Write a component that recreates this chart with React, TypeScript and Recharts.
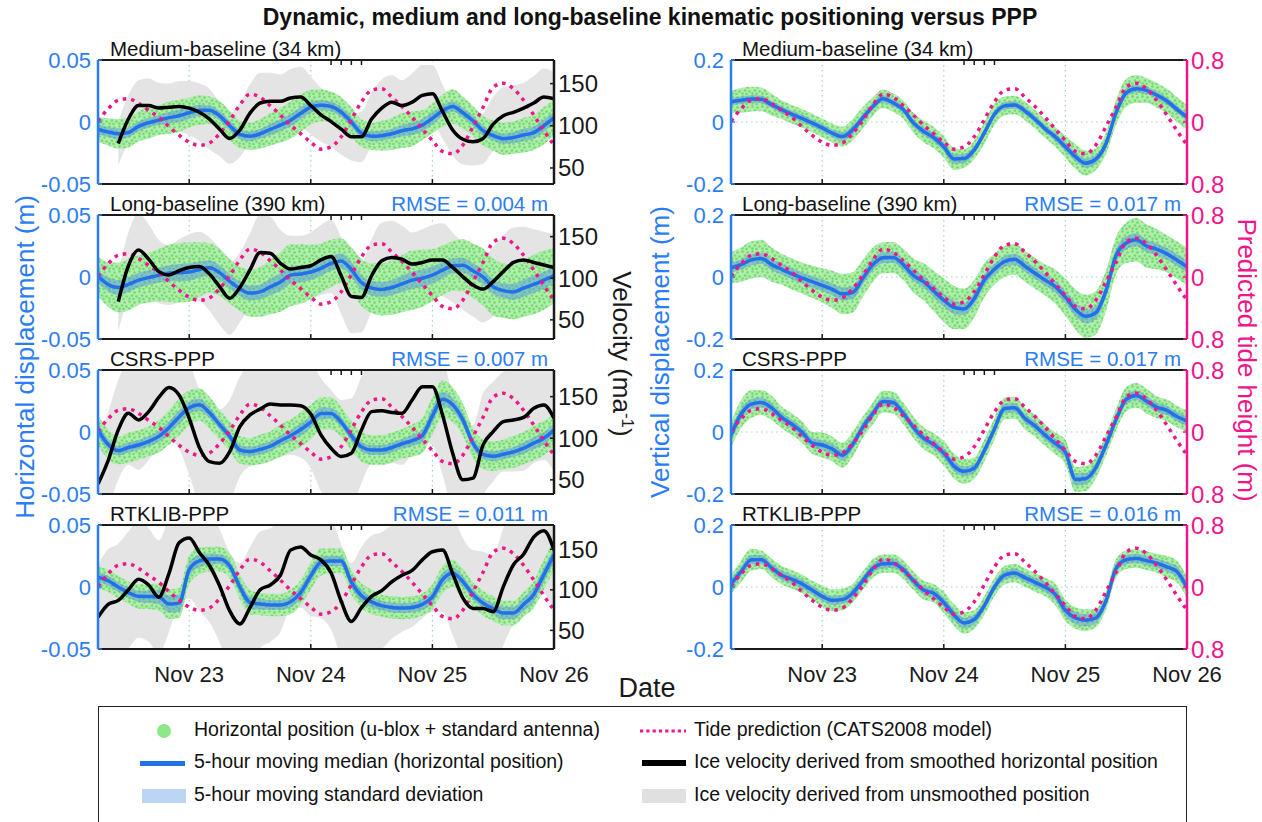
import React from "react";
import { ComposedChart, Area, Line, XAxis, YAxis, CartesianGrid } from "recharts";

const FONT = "'Liberation Sans', Arial, Helvetica, sans-serif";
const BLUE = "#2a7df4";
const BLUE_LINE = "#2270ea";
const PINK = "#f0158a";
const INK = "#1a1a1a";

// 2-hour samples, Nov 22 06:00 -> Nov 26 00:00 (day of month)
const TIMES = Array.from({ length: 46 }, (_, k) => 22.25 + k / 12);
const DATE_TICKS = [23, 24, 25, 26];

// CATS2008 tide prediction (m), shared by all panels
const TIDE = [0.01, 0.17, 0.28, 0.3, 0.24, 0.15, 0.06, -0.06, -0.17, -0.26, -0.3, -0.27, -0.15, 0.02, 0.22, 0.36, 0.32, 0.21, 0.09, -0.04, -0.15, -0.26, -0.35, -0.32, -0.19, 0.03, 0.26, 0.41, 0.43, 0.32, 0.2, 0.06, -0.09, -0.24, -0.38, -0.41, -0.3, -0.06, 0.19, 0.45, 0.5, 0.43, 0.28, 0.09, -0.11, -0.3];

// ---- horizontal panels (mm), velocity (m/a) ----
const H1_MED = [-6, -8, -9.5, -8.5, -3.5, -0.5, 1.5, 3.5, 5, 7.5, 9.5, 9.5, 5, -3, -10, -11.5, -9.5, -6, -2.5, 1.5, 7, 12, 13.5, 12.5, 8, 0, -9, -11.5, -11, -9.5, -7, -5.5, -2.5, 3, 9, 12.5, 7.5, 1, -7, -11, -13.5, -12.5, -10.5, -8.5, -3, 3.5];
const H1_SD = [4, 4, 4.5, 4, 4, 4, 4, 4.5, 5, 5, 4.5, 4, 4, 4, 4, 4, 4, 4.5, 5, 5, 5, 4.5, 4, 4, 4, 4, 4, 4, 4, 4, 4.5, 5, 5, 5, 4.5, 4, 4, 4, 4, 4, 4, 4.5, 5, 5, 5, 4.5];
const H1_SPREAD = [10, 11, 12, 12, 12, 13, 12, 13, 13, 12, 12, 11, 12, 12, 11, 11, 12, 13, 14, 15, 15, 14, 13, 12, 12, 12, 11, 11, 12, 13, 14, 14, 12, 12, 13, 14, 13, 12, 12, 12, 13, 13, 14, 14, 15, 14];
const V1 = [null, null, 79, 108, 124, 124, 121, 122, 123, 121, 116, 108, 96, 85, 95, 115, 127, 129, 129, 133, 134, 124, 113, 105, 96, 87, 87, 108, 121, 128, 124, 128, 136, 138, 117, 95, 84, 81, 85, 102, 112, 116, 121, 127, 134, 132];
const V1_RAW = [26, 26, 26, 28, 30, 32, 30, 28, 30, 32, 34, 36, 32, 30, 32, 34, 36, 34, 32, 34, 36, 34, 32, 30, 30, 28, 30, 32, 34, 32, 30, 34, 36, 34, 32, 30, 30, 28, 30, 32, 34, 32, 30, 32, 34, 32];

const H2_MED = [0.5, -6, -8.5, -6, -2.5, -0.5, 1.5, 3, 3.5, 4, 6, 7.5, 3.5, -3.5, -9.5, -13, -12, -8, -4, 1.5, 2.5, 4, 7, 11, 13, 6, -4.5, -9, -10, -8.5, -5.5, -2.5, -1, 1.5, 5.5, 9, 9.5, 5, 0, -8, -11, -12, -9, -6, -2.5, 1];
const H2_SD = [5, 5.5, 6, 6, 6, 6, 6, 6.5, 7, 7, 6.5, 6, 6, 6, 6, 6, 6, 6.5, 7, 7, 7, 6.5, 6, 6, 6, 6, 6, 6, 6, 6, 6.5, 7, 7, 7, 6.5, 6, 6, 6, 6, 6, 6, 6.5, 7, 7, 7, 6.5];
const H2_SPREAD = [16, 18, 20, 21, 20, 20, 21, 23, 24, 24, 22, 20, 19, 18, 18, 19, 20, 22, 24, 25, 24, 22, 20, 19, 18, 18, 19, 20, 21, 22, 23, 24, 23, 21, 20, 20, 21, 22, 23, 23, 22, 22, 23, 24, 24, 22];
const V2 = [null, null, 72, 115, 134, 123, 108, 104, 109, 113, 114, 105, 90, 76, 89, 110, 131, 130, 118, 111, 113, 115, 122, 126, 103, 78, 77, 103, 121, 125, 123, 117, 119, 122, 122, 113, 102, 92, 87, 96, 108, 119, 122, 119, 116, 113];
const V2_RAW = [32, 32, 36, 40, 44, 42, 38, 36, 38, 40, 42, 44, 46, 44, 42, 44, 46, 44, 40, 40, 38, 40, 42, 44, 46, 44, 42, 44, 46, 44, 40, 38, 40, 42, 44, 42, 40, 38, 40, 42, 44, 42, 40, 40, 40, 40];

const H3_MED = [1.5, -10, -15, -12.5, -10.5, -7.5, -3.5, 3.5, 12, 19.5, 22, 15.5, 6, -3.5, -14.5, -15.8, -14, -11.5, -7, -3, 2, 8, 15, 15, 8, -3, -12, -14.5, -14.5, -12.5, -9.5, -7, -3, 13, 26.5, 22, 10, -9, -18, -19.5, -18, -16, -13, -9, -5, 1.5];
const H3_SD = [5, 4.5, 4, 4, 4, 4, 4.5, 5, 5.5, 5, 5, 4.5, 4, 4, 4, 4, 4, 4, 4, 4.5, 5, 5, 5, 4.5, 4, 4, 4, 4, 4, 4, 4, 4.5, 5, 6, 6, 5.5, 5, 4.5, 4, 4, 4, 4, 4.5, 5, 5, 5];
const H3_SPREAD = [12, 12, 11, 12, 12, 12, 13, 14, 15, 14, 13, 13, 12, 12, 11, 11, 12, 12, 13, 13, 14, 14, 13, 13, 12, 12, 12, 12, 12, 12, 12, 13, 14, 15, 15, 14, 13, 12, 12, 12, 12, 13, 13, 14, 14, 13];
const V3 = [45, 73, 110, 130, 122, 132, 149, 161, 152, 124, 89, 72, 70, 84, 114, 128, 135, 141, 140, 140, 139, 129, 104, 88, 78, 82, 110, 132, 133, 131, 130, 146, 162, 162, 128, 82, 50, 52, 92, 108, 120, 122, 125, 136, 140, 124];
const V3_RAW = [55, 58, 60, 62, 60, 58, 60, 62, 65, 68, 70, 68, 65, 62, 60, 62, 65, 64, 62, 60, 62, 65, 68, 70, 68, 66, 64, 62, 60, 60, 62, 64, 66, 70, 72, 70, 66, 64, 62, 60, 60, 62, 64, 66, 66, 64];

const H4_MED = [8, 5, 0, -4.5, -7.5, -7.7, -8, -13.7, -13, 14, 21, 22.5, 22.5, 17, 0, -12.5, -13.7, -14.5, -14.5, -12, -4.5, 9, 20, 21, 21, 4, -7, -12, -15, -16.5, -17, -16.5, -14, -8, 6, 11, 4.5, -6, -13, -17.5, -21, -21, -14, -6, 10, 26];
const H4_SD = [4, 4, 4, 4, 4.5, 5, 6, 7, 7, 6, 5, 4.5, 4, 4, 4.5, 5, 4.5, 4, 4, 4.5, 5, 5, 4.5, 4, 4, 4.5, 5, 4.5, 4, 4, 4, 4, 4.5, 5, 5.5, 5, 4.5, 4, 4, 4.5, 5, 5, 5.5, 6, 6, 5.5];
const H4_SPREAD = [9, 9, 9, 9, 10, 10, 11, 12, 12, 12, 11, 10, 10, 10, 10, 10, 9, 9, 9, 10, 10, 11, 11, 10, 10, 10, 10, 10, 9, 9, 9, 9, 9, 10, 11, 11, 10, 10, 10, 10, 10, 10, 10, 11, 12, 12];
const V4 = [66, 82, 87, 100, 113, 106, 91, 120, 158, 164, 146, 130, 105, 74, 58, 78, 100, 106, 118, 149, 153, 143, 137, 121, 86, 61, 78, 92, 99, 110, 118, 124, 137, 147, 149, 120, 90, 77, 77, 73, 104, 131, 144, 165, 173, 149];
const V4_RAW = [65, 68, 70, 72, 72, 70, 70, 72, 75, 75, 72, 70, 70, 72, 75, 75, 72, 70, 70, 72, 75, 75, 72, 70, 70, 72, 75, 75, 72, 70, 70, 70, 72, 74, 76, 76, 74, 72, 70, 70, 72, 74, 76, 78, 78, 76];

// ---- vertical panels (m) ----
const R1_MED = [0.066, 0.07, 0.074, 0.073, 0.056, 0.04, 0.025, 0.012, -0.003, -0.019, -0.036, -0.047, -0.025, 0.013, 0.05, 0.075, 0.062, 0.04, -0.003, -0.03, -0.05, -0.08, -0.119, -0.118, -0.09, -0.035, 0.025, 0.052, 0.055, 0.036, 0.009, -0.022, -0.048, -0.08, -0.112, -0.133, -0.12, -0.07, 0.03, 0.094, 0.107, 0.102, 0.087, 0.068, 0.041, 0.016];
const R1_SD = [0.012, 0.012, 0.012, 0.012, 0.012, 0.012, 0.012, 0.012, 0.012, 0.012, 0.013, 0.014, 0.014, 0.013, 0.012, 0.012, 0.012, 0.012, 0.012, 0.013, 0.014, 0.015, 0.015, 0.014, 0.013, 0.012, 0.012, 0.012, 0.012, 0.012, 0.012, 0.012, 0.013, 0.014, 0.015, 0.015, 0.014, 0.013, 0.013, 0.013, 0.012, 0.012, 0.012, 0.012, 0.012, 0.012];
const R1_SPREAD = [0.035, 0.04, 0.04, 0.038, 0.035, 0.03, 0.03, 0.03, 0.03, 0.03, 0.03, 0.032, 0.035, 0.035, 0.03, 0.03, 0.03, 0.03, 0.032, 0.035, 0.035, 0.035, 0.035, 0.03, 0.03, 0.035, 0.035, 0.03, 0.03, 0.03, 0.03, 0.03, 0.032, 0.035, 0.04, 0.04, 0.035, 0.035, 0.04, 0.045, 0.045, 0.04, 0.04, 0.04, 0.04, 0.04];

const R2_MED = [0.03, 0.04, 0.055, 0.06, 0.04, 0.025, 0.01, -0.003, -0.015, -0.027, -0.04, -0.055, -0.05, -0.005, 0.04, 0.062, 0.063, 0.04, 0.005, -0.015, -0.045, -0.075, -0.098, -0.103, -0.07, -0.01, 0.025, 0.05, 0.057, 0.035, 0.012, -0.01, -0.031, -0.065, -0.105, -0.127, -0.115, -0.045, 0.07, 0.11, 0.12, 0.1, 0.09, 0.075, 0.055, 0.033];
const R2_SD = [0.016, 0.017, 0.018, 0.018, 0.018, 0.018, 0.018, 0.018, 0.018, 0.019, 0.02, 0.021, 0.021, 0.02, 0.019, 0.018, 0.018, 0.018, 0.018, 0.019, 0.02, 0.021, 0.021, 0.02, 0.019, 0.018, 0.018, 0.018, 0.018, 0.018, 0.018, 0.018, 0.019, 0.02, 0.022, 0.022, 0.021, 0.02, 0.02, 0.021, 0.021, 0.02, 0.019, 0.019, 0.019, 0.019];
const R2_SPREAD = [0.05, 0.055, 0.06, 0.06, 0.055, 0.05, 0.05, 0.05, 0.052, 0.055, 0.06, 0.065, 0.065, 0.06, 0.055, 0.05, 0.05, 0.05, 0.055, 0.06, 0.065, 0.07, 0.07, 0.065, 0.06, 0.055, 0.05, 0.05, 0.05, 0.05, 0.05, 0.05, 0.055, 0.06, 0.065, 0.07, 0.07, 0.065, 0.06, 0.065, 0.07, 0.07, 0.065, 0.06, 0.06, 0.06];

const R3_MED = [-0.01, 0.058, 0.09, 0.095, 0.078, 0.047, 0.025, 0.0, -0.035, -0.042, -0.055, -0.075, -0.04, 0.015, 0.06, 0.098, 0.095, 0.06, 0.015, -0.02, -0.04, -0.068, -0.11, -0.127, -0.117, -0.06, 0.01, 0.076, 0.078, 0.044, 0.02, -0.01, -0.037, -0.065, -0.153, -0.15, -0.115, -0.042, 0.04, 0.105, 0.118, 0.1, 0.08, 0.07, 0.05, 0.035];
const R3_SD = [0.02, 0.018, 0.017, 0.016, 0.015, 0.015, 0.015, 0.015, 0.016, 0.016, 0.017, 0.018, 0.017, 0.016, 0.015, 0.015, 0.015, 0.015, 0.015, 0.015, 0.016, 0.017, 0.017, 0.016, 0.015, 0.015, 0.015, 0.015, 0.015, 0.015, 0.015, 0.016, 0.017, 0.02, 0.02, 0.018, 0.017, 0.017, 0.017, 0.016, 0.015, 0.015, 0.015, 0.015, 0.015, 0.015];
const R3_SPREAD = [0.04, 0.045, 0.045, 0.04, 0.04, 0.035, 0.035, 0.035, 0.035, 0.04, 0.04, 0.04, 0.04, 0.035, 0.035, 0.035, 0.035, 0.035, 0.035, 0.035, 0.035, 0.04, 0.04, 0.04, 0.035, 0.035, 0.035, 0.035, 0.035, 0.035, 0.035, 0.035, 0.035, 0.04, 0.04, 0.04, 0.035, 0.035, 0.035, 0.04, 0.04, 0.04, 0.035, 0.035, 0.035, 0.035];

const R4_MED = [0.009, 0.05, 0.088, 0.088, 0.062, 0.038, 0.025, 0.01, -0.01, -0.03, -0.043, -0.04, -0.02, 0.02, 0.06, 0.075, 0.076, 0.056, 0.02, -0.01, -0.02, -0.05, -0.09, -0.116, -0.105, -0.06, 0.0, 0.038, 0.045, 0.03, 0.015, 0.0, -0.024, -0.075, -0.1, -0.107, -0.1, -0.045, 0.06, 0.088, 0.092, 0.085, 0.077, 0.065, 0.05, -0.002];
const R4_SD = [0.016, 0.016, 0.015, 0.015, 0.015, 0.015, 0.015, 0.015, 0.015, 0.015, 0.015, 0.015, 0.015, 0.015, 0.015, 0.015, 0.015, 0.015, 0.015, 0.015, 0.015, 0.016, 0.017, 0.017, 0.016, 0.015, 0.015, 0.015, 0.015, 0.015, 0.015, 0.016, 0.018, 0.02, 0.02, 0.02, 0.018, 0.017, 0.016, 0.015, 0.015, 0.015, 0.015, 0.016, 0.018, 0.018];
const R4_SPREAD = [0.03, 0.035, 0.035, 0.03, 0.03, 0.03, 0.03, 0.03, 0.03, 0.035, 0.035, 0.035, 0.03, 0.03, 0.03, 0.03, 0.03, 0.03, 0.03, 0.03, 0.03, 0.035, 0.035, 0.035, 0.03, 0.03, 0.03, 0.03, 0.03, 0.03, 0.03, 0.03, 0.035, 0.035, 0.035, 0.035, 0.03, 0.03, 0.03, 0.03, 0.03, 0.03, 0.03, 0.035, 0.035, 0.035];

const SOLUTIONS = ["Medium-baseline (34 km)", "Long-baseline (390 km)", "CSRS-PPP", "RTKLIB-PPP"];
const RMSE_H = [null, "0.004", "0.007", "0.011"];
const RMSE_V = [null, "0.017", "0.017", "0.016"];
const VEL_DOMAINS: [number, number][] = [[31, 178], [27, 176], [33, 182], [27, 180]];

type Row = {
  t: number;
  med: number;
  sd: [number, number];
  green: [number, number];
  tide: number;
  vel: number | null;
  grey: [number, number] | null;
};

function buildRows(med: number[], sd: number[], spread: number[], scale: number, vel?: (number | null)[], velRaw?: number[]): Row[] {
  return TIMES.map((t, i) => {
    const m = med[i] * scale;
    const v = vel ? vel[i] : null;
    return {
      t,
      med: m,
      sd: [m - sd[i] * scale, m + sd[i] * scale],
      green: [m - spread[i] * scale, m + spread[i] * scale],
      tide: TIDE[i],
      vel: v,
      grey: v == null || !velRaw ? null : [v - velRaw[i], v + velRaw[i]],
    };
  });
}

const H_ROWS = [
  buildRows(H1_MED, H1_SD, H1_SPREAD, 0.001, V1, V1_RAW),
  buildRows(H2_MED, H2_SD, H2_SPREAD, 0.001, V2, V2_RAW),
  buildRows(H3_MED, H3_SD, H3_SPREAD, 0.001, V3, V3_RAW),
  buildRows(H4_MED, H4_SD, H4_SPREAD, 0.001, V4, V4_RAW),
];
const V_ROWS = [
  buildRows(R1_MED, R1_SD, R1_SPREAD, 1),
  buildRows(R2_MED, R2_SD, R2_SPREAD, 1),
  buildRows(R3_MED, R3_SD, R3_SPREAD, 1),
  buildRows(R4_MED, R4_SD, R4_SPREAD, 1),
];

const PLOT_W = 456;
const PLOT_H = 124;
const WL = 70;
const WR = 60;
const PAD = 14; // room for the end tick labels above and below each panel

// scattered-dot texture for the position cloud
const DOTS: [number, number][] = [[1.5, 1.5], [6.5, 2.5], [4, 5.5], [8.5, 6.5], [1.5, 8.5], [5.5, 9]];

type PanelProps = {
  id: string;
  x: number;
  y: number;
  data: Row[];
  kind: "h" | "v";
  velDomain?: [number, number];
  showDates: boolean;
};

function Panel({ id, x, y, data, kind, velDomain, showDates }: PanelProps) {
  const bottomH = showDates ? 44 : 1;
  const padBottom = showDates ? 0 : PAD;
  const isH = kind === "h";
  return (
    <div style={{ position: "absolute", left: x - WL, top: y - PAD - 1 }}>
      <ComposedChart
        width={WL + PLOT_W + WR}
        height={PAD + 1 + PLOT_H + bottomH + padBottom}
        data={data}
        margin={{ top: PAD, right: 0, bottom: padBottom, left: 0 }}
      >
        <defs>
          <pattern id={`dots-${id}`} width="10" height="10" patternUnits="userSpaceOnUse">
            <rect width="10" height="10" fill="#afeeab" />
            {DOTS.map(([cx, cy]) => (
              <circle key={`${cx}-${cy}`} cx={cx} cy={cy} r="1.3" fill="#74d870" />
            ))}
          </pattern>
        </defs>
        <CartesianGrid xAxisId="b" yAxisId="d" stroke="#9fd0d0" strokeDasharray="1.5 3.5" strokeWidth={1.2} />

        {isH && (
          <Area xAxisId="b" yAxisId="vel" dataKey="grey" type="monotone" stroke="none" fill="#e4e4e4" fillOpacity={1} isAnimationActive={false} />
        )}
        <Area xAxisId="b" yAxisId="d" dataKey="green" type="monotone" stroke="none" fill={`url(#dots-${id})`} fillOpacity={1} isAnimationActive={false} />
        <Area xAxisId="b" yAxisId="d" dataKey="sd" type="monotone" stroke="none" fill="#4d8fe6" fillOpacity={0.45} isAnimationActive={false} />
        <Line xAxisId="b" yAxisId="d" dataKey="med" type="monotone" stroke={BLUE_LINE} strokeWidth={3.5} dot={false} isAnimationActive={false} />
        <Line xAxisId="b" yAxisId="tide" dataKey="tide" type="monotone" stroke={PINK} strokeWidth={3.5} strokeDasharray="3.5 5" dot={false} isAnimationActive={false} />
        {isH && (
          <Line xAxisId="b" yAxisId="vel" dataKey="vel" type="monotone" stroke="#000" strokeWidth={3.5} dot={false} isAnimationActive={false} />
        )}

        <XAxis
          xAxisId="b"
          dataKey="t"
          type="number"
          domain={[22.25, 26]}
          ticks={DATE_TICKS}
          interval={0}
          allowDataOverflow
          height={bottomH}
          tickSize={-5}
          tickMargin={showDates ? 22 : 0}
          tickFormatter={(v: number) => (showDates ? `Nov ${v}` : "")}
          tick={{ fill: INK, fontSize: 22, fontFamily: FONT }}
          axisLine={{ stroke: INK, strokeWidth: 2 }}
          tickLine={{ stroke: INK, strokeWidth: 1.5 }}
        />
        <XAxis
          xAxisId="t"
          orientation="top"
          type="number"
          domain={[22.25, 26]}
          ticks={DATE_TICKS}
          interval={0}
          allowDataOverflow
          height={1}
          tickSize={-5}
          tickFormatter={() => ""}
          axisLine={{ stroke: INK, strokeWidth: 2 }}
          tickLine={{ stroke: INK, strokeWidth: 1.5 }}
        />
        <YAxis
          yAxisId="d"
          orientation="left"
          width={WL}
          type="number"
          domain={isH ? [-0.05, 0.05] : [-0.2, 0.2]}
          ticks={isH ? [-0.05, 0, 0.05] : [-0.2, 0, 0.2]}
          interval={0}
          allowDataOverflow
          tickSize={-4}
          tickMargin={11}
          tickFormatter={(v: number) => String(v)}
          tick={{ fill: BLUE, fontSize: 22, fontFamily: FONT }}
          axisLine={{ stroke: BLUE, strokeWidth: 2.5 }}
          tickLine={{ stroke: BLUE, strokeWidth: 1.5 }}
        />
        {isH ? (
          <YAxis
            yAxisId="vel"
            orientation="right"
            width={WR}
            type="number"
            domain={velDomain}
            ticks={[50, 100, 150]}
            interval={0}
            allowDataOverflow
            tickSize={-4}
            tickMargin={8}
            tick={{ fill: INK, fontSize: 24, fontFamily: FONT }}
            axisLine={{ stroke: INK, strokeWidth: 2.5 }}
            tickLine={{ stroke: INK, strokeWidth: 1.5 }}
          />
        ) : null}
        {isH ? (
          <YAxis yAxisId="tide" hide width={0} type="number" domain={[-0.8, 0.8]} allowDataOverflow />
        ) : (
          <YAxis
            yAxisId="tide"
            orientation="right"
            width={WR}
            type="number"
            domain={[-0.8, 0.8]}
            ticks={[-0.8, 0, 0.8]}
            interval={0}
            allowDataOverflow
            tickSize={-4}
            tickMargin={8}
            tickFormatter={(v: number) => String(Math.abs(v))}
            tick={{ fill: PINK, fontSize: 24, fontFamily: FONT }}
            axisLine={{ stroke: PINK, strokeWidth: 2.5 }}
            tickLine={{ stroke: PINK, strokeWidth: 1.5 }}
          />
        )}
      </ComposedChart>
    </div>
  );
}

const text = (extra: React.CSSProperties): React.CSSProperties => ({
  position: "absolute",
  fontFamily: FONT,
  whiteSpace: "nowrap",
  lineHeight: 1,
  ...extra,
});

function Legend() {
  const rowY = [731, 763, 796];
  const label = (x: number, y: number, s: string) => (
    <div style={text({ left: x, top: y - 11, fontSize: 19.5, color: "#111" })}>{s}</div>
  );
  return (
    <>
      <div style={{ position: "absolute", left: 98, top: 706, width: 1089, height: 124, border: "1.5px solid #222", boxSizing: "border-box" }} />
      <svg style={{ position: "absolute", left: 156, top: rowY[0] - 8 }} width={16} height={16}>
        <circle cx={8} cy={8} r={7} fill="#8de88a" />
      </svg>
      <div style={{ position: "absolute", left: 140, top: rowY[1] - 2.5, width: 45, height: 5, background: BLUE_LINE }} />
      <div style={{ position: "absolute", left: 142, top: rowY[2] - 7, width: 44, height: 14, background: "#bcd5f5" }} />
      {label(194, rowY[0], "Horizontal position (u-blox + standard antenna)")}
      {label(194, rowY[1], "5-hour moving median (horizontal position)")}
      {label(194, rowY[2], "5-hour moving standard deviation")}

      <svg style={{ position: "absolute", left: 640, top: rowY[0] - 3 }} width={46} height={6}>
        <line x1={0} y1={3} x2={46} y2={3} stroke={PINK} strokeWidth={3} strokeDasharray="3.2 3.1" />
      </svg>
      <div style={{ position: "absolute", left: 642, top: rowY[1] - 3, width: 44, height: 6, background: "#000" }} />
      <div style={{ position: "absolute", left: 642, top: rowY[2] - 7, width: 44, height: 14, background: "#e0e0e0" }} />
      {label(694, rowY[0], "Tide prediction (CATS2008 model)")}
      {label(694, rowY[1], "Ice velocity derived from smoothed horizontal position")}
      {label(694, rowY[2], "Ice velocity derived from unsmoothed position")}
    </>
  );
}

export default function App() {
  const rowTop = (i: number) => 60 + 155 * i;
  return (
    <div style={{ position: "absolute", left: 0, top: 0, width: 1262, height: 822, background: "#fff", overflow: "hidden" }}>
      <div style={text({ left: 650, top: 17, transform: "translate(-50%, -50%)", fontSize: 23, fontWeight: 700, color: "#111" })}>
        Dynamic, medium and long-baseline kinematic positioning versus PPP
      </div>

      {H_ROWS.map((rows, i) => (
        <Panel key={`h${i}`} id={`h${i}`} x={98} y={rowTop(i)} data={rows} kind="h" velDomain={VEL_DOMAINS[i]} showDates={i === 3} />
      ))}
      {V_ROWS.map((rows, i) => (
        <Panel key={`v${i}`} id={`v${i}`} x={731} y={rowTop(i)} data={rows} kind="v" showDates={i === 3} />
      ))}

      {SOLUTIONS.map((s, i) => (
        <React.Fragment key={s}>
          <div style={text({ left: 110, top: rowTop(i) - 21, fontSize: 20.5, color: "#111" })}>{s}</div>
          <div style={text({ left: 742, top: rowTop(i) - 21, fontSize: 20.5, color: "#111" })}>{s}</div>
          {RMSE_H[i] && (
            <div style={text({ right: 1262 - 548, top: rowTop(i) - 21, fontSize: 20.5, color: BLUE })}>RMSE = {RMSE_H[i]} m</div>
          )}
          {RMSE_V[i] && (
            <div style={text({ right: 1262 - 1181, top: rowTop(i) - 21, fontSize: 20.5, color: BLUE })}>RMSE = {RMSE_V[i]} m</div>
          )}
        </React.Fragment>
      ))}

      <div style={text({ left: 25, top: 357, transform: "translate(-50%, -50%) rotate(-90deg)", fontSize: 26, color: BLUE })}>
        Horizontal displacement (m)
      </div>
      <div style={text({ left: 622, top: 354, transform: "translate(-50%, -50%) rotate(90deg)", fontSize: 26, color: INK })}>
        Velocity (ma<sup style={{ fontSize: "0.65em" }}>-1</sup>)
      </div>
      <div style={text({ left: 660, top: 352, transform: "translate(-50%, -50%) rotate(-90deg)", fontSize: 26, color: BLUE })}>
        Vertical displacement (m)
      </div>
      <div style={text({ left: 1247, top: 360, transform: "translate(-50%, -50%) rotate(90deg)", fontSize: 26, color: PINK })}>
        Predicted tide height (m)
      </div>
      <div style={text({ left: 647, top: 688, transform: "translate(-50%, -50%)", fontSize: 27, color: INK })}>Date</div>

      <Legend />
    </div>
  );
}
